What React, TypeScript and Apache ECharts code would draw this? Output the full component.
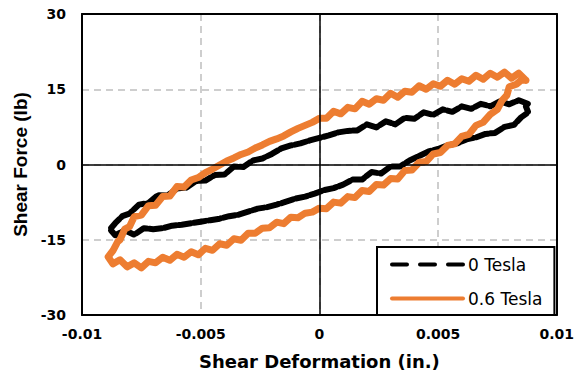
import React, { useEffect, useRef } from "react";
import * as echarts from "echarts";

const xTickLabels = ["-0.01", "-0.005", "0", "0.005", "0.01"];
const yTickLabels = ["-30", "-15", "0", "15", "30"];
const seriesNames = ["0 Tesla", "0.6 Tesla"];

// 0 Tesla loop: upper branch (right -> left), then lower branch (left -> right)
const tesla0Upper: number[][] = [
  [0.00878, 12.1], [0.0084, 12.8], [0.008, 12.0], [0.0076, 12.6], [0.0072, 11.6], [0.0068, 12.1],
  [0.0064, 11.1], [0.006, 11.6], [0.0056, 10.5], [0.0052, 11.0], [0.0048, 9.9], [0.0044, 10.4],
  [0.004, 9.1], [0.0036, 9.3], [0.0032, 8.0], [0.0028, 8.6], [0.0024, 7.4], [0.002, 8.0],
  [0.0016, 6.8], [0.0012, 6.7], [0.0008, 6.4], [0.0004, 5.8], [0.0, 5.3], [-0.0004, 4.8],
  [-0.0008, 4.2], [-0.0012, 3.8], [-0.0016, 3.2], [-0.002, 2.1], [-0.0024, 1.2], [-0.0028, 0.8],
  [-0.0032, -0.5], [-0.0036, -0.4], [-0.004, -2.0], [-0.0044, -2.1], [-0.0048, -3.2], [-0.0052, -3.3],
  [-0.0056, -4.6], [-0.006, -4.8], [-0.0064, -6.2], [-0.0068, -6.1], [-0.0072, -7.7], [-0.0076, -8.0],
  [-0.008, -9.8], [-0.0083, -10.3], [-0.0086, -11.7], [-0.0088, -12.8],
];
const tesla0Lower: number[][] = [
  [-0.0088, -13.0], [-0.0086, -14.1], [-0.0082, -13.1], [-0.0078, -14.0], [-0.0074, -12.7], [-0.007, -12.9],
  [-0.0066, -12.7], [-0.0062, -12.2], [-0.0058, -12.0], [-0.0054, -11.7], [-0.005, -11.4], [-0.0046, -11.1],
  [-0.0042, -10.8], [-0.0038, -10.3], [-0.0034, -10.0], [-0.003, -9.4], [-0.0026, -8.8], [-0.0022, -8.5],
  [-0.0018, -8.0], [-0.0014, -7.4], [-0.001, -6.8], [-0.0006, -6.4], [-0.0002, -5.8], [0.0002, -5.1],
  [0.0006, -4.7], [0.001, -4.0], [0.0014, -3.0], [0.0018, -3.0], [0.0022, -1.5], [0.0026, -1.8],
  [0.003, -0.4], [0.0034, -0.4], [0.0038, 0.8], [0.0042, 1.7], [0.0046, 2.6], [0.005, 3.1],
  [0.0054, 3.8], [0.0058, 4.2], [0.0062, 5.0], [0.0066, 5.4], [0.007, 6.1], [0.0074, 6.3],
  [0.0078, 7.5], [0.0082, 7.9], [0.0085, 9.4], [0.0088, 10.4], [0.0087, 11.6], [0.00878, 12.1],
];

// 0.6 Tesla loop
const tesla06Upper: number[][] = [
  [0.0087, 16.8], [0.0084, 18.2], [0.0081, 17.2], [0.0078, 18.4], [0.0075, 17.4], [0.0072, 18.2],
  [0.0069, 17.0], [0.0066, 17.8], [0.0063, 16.6], [0.006, 17.1], [0.0057, 16.0], [0.0054, 16.8],
  [0.0051, 15.6], [0.0048, 16.1], [0.0045, 15.0], [0.0042, 15.7], [0.0039, 14.4], [0.0036, 14.6],
  [0.0033, 13.4], [0.003, 14.2], [0.0027, 12.8], [0.0024, 13.1], [0.0021, 12.0], [0.0018, 12.6],
  [0.0015, 11.1], [0.0012, 11.4], [0.0009, 10.1], [0.0006, 10.6], [0.0003, 9.2], [0.0, 9.2],
  [-0.0003, 8.4], [-0.0006, 7.8], [-0.0009, 7.2], [-0.0012, 6.5], [-0.0015, 5.7], [-0.0018, 5.1],
  [-0.0021, 4.6], [-0.0024, 3.9], [-0.0027, 3.3], [-0.003, 2.5], [-0.0033, 2.0], [-0.0036, 1.3],
  [-0.0039, 0.7], [-0.0042, -0.1], [-0.0045, -0.9], [-0.0048, -1.6], [-0.0051, -2.6], [-0.0054, -3.1],
  [-0.0057, -4.5], [-0.006, -4.4], [-0.0063, -6.3], [-0.0066, -6.4], [-0.0069, -8.1], [-0.0072, -8.2],
  [-0.0075, -10.1], [-0.0078, -10.4], [-0.008, -12.4], [-0.0082, -12.9], [-0.0084, -15.0], [-0.0085, -15.4],
  [-0.0087, -17.2], [-0.0089, -18.4],
];
const tesla06Lower: number[][] = [
  [-0.0089, -18.4], [-0.0087, -19.8], [-0.0084, -19.0], [-0.0081, -20.4], [-0.0078, -19.6], [-0.0075, -20.6],
  [-0.0072, -19.3], [-0.0069, -19.6], [-0.0066, -18.5], [-0.0063, -19.1], [-0.006, -17.9], [-0.0057, -18.5],
  [-0.0054, -17.4], [-0.0051, -18.0], [-0.0048, -16.7], [-0.0045, -17.1], [-0.0042, -15.8], [-0.0039, -16.1],
  [-0.0036, -14.8], [-0.0033, -15.1], [-0.003, -13.7], [-0.0027, -13.7], [-0.0024, -12.7], [-0.0021, -12.6],
  [-0.0018, -11.5], [-0.0015, -11.8], [-0.0012, -10.5], [-0.0009, -10.6], [-0.0006, -9.7], [-0.0003, -9.5],
  [0.0, -8.7], [0.0003, -8.8], [0.0006, -7.5], [0.0009, -7.7], [0.0012, -6.4], [0.0015, -6.6],
  [0.0018, -5.2], [0.0021, -5.4], [0.0024, -4.0], [0.0027, -4.1], [0.003, -2.8], [0.0033, -2.9],
  [0.0036, -1.2], [0.0039, -1.1], [0.0042, 0.4], [0.0045, 0.6], [0.0048, 2.1], [0.0051, 2.4],
  [0.0054, 3.8], [0.0057, 4.1], [0.006, 5.6], [0.0063, 6.0], [0.0066, 7.8], [0.0069, 8.4],
  [0.0072, 10.0], [0.0075, 11.0], [0.0077, 12.8], [0.0079, 13.8], [0.008, 15.5], [0.0083, 16.0],
  [0.0085, 16.8], [0.0087, 16.8],
];

const FONT = "DejaVu Sans";

export default function App() {
  const ref = useRef<HTMLDivElement>(null);
  useEffect(() => {
    if (!ref.current) return;
    const chart = echarts.init(ref.current, null, { renderer: "svg" });
    const axisCommon = {
      type: "value",
      axisTick: { show: false },
    };
    const frameLine = { show: true, onZero: false, lineStyle: { color: "#000", width: 2 } };
    const gridSplit = { show: true, lineStyle: { color: "#bfbfbf", width: 1.5, type: [7, 5] } };
    const hiddenSymbol = { color: "transparent", borderColor: "transparent", borderWidth: 0, opacity: 0 };
    chart.setOption({
      animation: false,
      textStyle: { fontFamily: FONT },
      grid: { left: 82, right: 20, top: 14, bottom: 64, containLabel: false },
      xAxis: [
        {
          ...axisCommon,
          min: -0.01,
          max: 0.01,
          interval: 0.005,
          position: "bottom",
          axisLine: frameLine,
          splitLine: gridSplit,
          axisLabel: {
            margin: 12,
            color: "#000",
            fontSize: 14,
            fontWeight: "bold",
            fontFamily: FONT,
            formatter: (_v: number, i: number) => xTickLabels[i],
          },
          name: "Shear Deformation (in.)",
          nameLocation: "middle",
          nameGap: 37,
          nameTextStyle: { color: "#000", fontSize: 18, fontWeight: "bold", fontFamily: FONT },
        },
        {
          ...axisCommon,
          min: -0.01,
          max: 0.01,
          interval: 0.005,
          position: "top",
          axisLine: frameLine,
          splitLine: { show: false },
          axisLabel: { show: false },
        },
      ],
      yAxis: [
        {
          ...axisCommon,
          min: -30,
          max: 30,
          interval: 15,
          position: "left",
          axisLine: frameLine,
          splitLine: gridSplit,
          axisLabel: {
            margin: 16,
            color: "#000",
            fontSize: 14,
            fontWeight: "bold",
            fontFamily: FONT,
            formatter: (_v: number, i: number) => yTickLabels[i],
          },
          name: "Shear Force (lb)",
          nameLocation: "middle",
          nameGap: 50,
          nameTextStyle: { color: "#000", fontSize: 19, fontWeight: "bold", fontFamily: "Liberation Sans" },
        },
        {
          ...axisCommon,
          min: -30,
          max: 30,
          interval: 15,
          position: "right",
          axisLine: frameLine,
          splitLine: { show: false },
          axisLabel: { show: false },
        },
      ],
      legend: {
        orient: "vertical",
        left: 377,
        top: 247,
        padding: [9, 12, 8, 13],
        itemWidth: 71,
        itemHeight: 14,
        itemGap: 17,
        borderColor: "#000",
        borderWidth: 2,
        backgroundColor: "#fff",
        textStyle: { color: "#000", fontSize: 17, fontFamily: FONT },
        itemStyle: hiddenSymbol,
        data: [
          { name: seriesNames[0], itemStyle: hiddenSymbol, lineStyle: { type: [15, 13], width: 4 } },
          { name: seriesNames[1], itemStyle: hiddenSymbol, lineStyle: { width: 4 } },
        ],
      },
      series: [
        {
          name: "zero",
          type: "line",
          data: [],
          silent: true,
          z: 1,
          markLine: {
            symbol: "none",
            silent: true,
            label: { show: false },
            lineStyle: { color: "#000", width: 1.5, type: "solid" },
            data: [{ xAxis: 0 }, { yAxis: 0 }],
          },
        },
        {
          name: seriesNames[0],
          type: "line",
          symbol: "none",
          z: 3,
          data: [...tesla0Upper, ...tesla0Lower],
          itemStyle: { color: "#000" },
          lineStyle: { color: "#000", width: 6, type: [12, 3], cap: "round", join: "round" },
        },
        {
          name: seriesNames[1],
          type: "line",
          symbol: "none",
          z: 4,
          data: [...tesla06Upper, ...tesla06Lower],
          itemStyle: { color: "#ED7D31" },
          lineStyle: { color: "#ED7D31", width: 7, cap: "round", join: "round" },
        },
      ],
    });
    return () => chart.dispose();
  }, []);
  return (
    <div
      ref={ref}
      style={{ position: "absolute", left: 0, top: 0, width: 577, height: 379 }}
    />
  );
}
